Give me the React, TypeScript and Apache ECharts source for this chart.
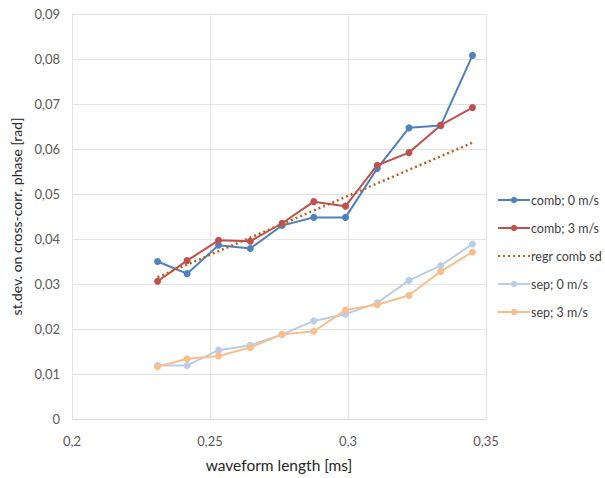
import React, { useEffect, useRef } from "react";
import * as echarts from "echarts";

const xValues = [0.231, 0.2417, 0.2531, 0.2646, 0.2761, 0.2876, 0.2991, 0.3106, 0.3221, 0.3336, 0.3451];
const comb0 = [0.035, 0.0323, 0.0386, 0.0379, 0.043, 0.0448, 0.0448, 0.0557, 0.0647, 0.0652, 0.0808];
const comb3 = [0.0306, 0.0352, 0.0397, 0.0395, 0.0435, 0.0483, 0.0473, 0.0564, 0.0592, 0.0653, 0.0692];
const sep0 = [0.0119, 0.0119, 0.0153, 0.0164, 0.0188, 0.0218, 0.0233, 0.0258, 0.0308, 0.0341, 0.0389];
const sep3 = [0.0116, 0.0134, 0.014, 0.0159, 0.0188, 0.0195, 0.0242, 0.0254, 0.0275, 0.0328, 0.0371];
const regrX = [0.231, 0.3451];
const regrY = [0.0315, 0.0614];

const seriesNames = ["comb; 0 m/s", "comb; 3 m/s", "regr comb sd", "sep; 0 m/s", "sep; 3 m/s"];
const colors = ["#4F81BD", "#C0504D", "#B8621B", "#B9CDE8", "#F9BE8C"];

const pairs = (xs: number[], ys: number[]) => xs.map((x, i) => [x, ys[i]]);
const fmt = (v: number) => String(Math.round(v * 1000) / 1000).replace(".", ",");

export default function App() {
  const ref = useRef<HTMLDivElement>(null);
  useEffect(() => {
    if (!ref.current) return;
    const chart = echarts.init(ref.current, null, { renderer: "svg" });
    const font = "Lato, 'Noto Sans', sans-serif";
    const lineSeries = (name: string, color: string, data: number[][]) => ({
      name,
      type: "line",
      data,
      symbol: "circle",
      symbolSize: 7,
      lineStyle: { color, width: 2 },
      itemStyle: { color },
      z: 3,
    });
    chart.setOption({
      animation: false,
      backgroundColor: "#ffffff",
      textStyle: { fontFamily: font },
      grid: { left: 72, right: 119, top: 14, bottom: 52, containLabel: false },
      legend: {
        orient: "vertical",
        left: 492,
        top: 188,
        itemWidth: 32,
        itemHeight: 8,
        itemGap: 14,
        textStyle: { fontFamily: font, fontSize: 12.5, color: "#404040", padding: [0, 0, 0, -4], height: 14, lineHeight: 14 },
        data: seriesNames.map((n, i) => (i === 2 ? { name: n, itemStyle: { opacity: 0 } } : { name: n })),
      },
      xAxis: {
        type: "value",
        min: 0.2,
        max: 0.35,
        interval: 0.05,
        name: "waveform length [ms]",
        nameLocation: "middle",
        nameGap: 38,
        nameTextStyle: { fontFamily: font, fontSize: 15.5, color: "#262626" },
        axisLine: { show: true, lineStyle: { color: "#D9D9D9" } },
        axisTick: { show: false },
        axisLabel: { formatter: fmt, color: "#595959", fontSize: 13, margin: 15, fontFamily: font },
        splitLine: { show: true, lineStyle: { color: "#E3E3E3" } },
      },
      yAxis: {
        type: "value",
        min: 0,
        max: 0.09,
        interval: 0.01,
        name: "st.dev. on cross-corr. phase [rad]",
        nameLocation: "middle",
        nameGap: 40,
        nameTextStyle: { fontFamily: font, fontSize: 14, color: "#262626" },
        axisLine: { show: false },
        axisTick: { show: false },
        axisLabel: { formatter: fmt, color: "#595959", fontSize: 13, margin: 12, fontFamily: font },
        splitLine: { show: true, lineStyle: { color: "#E3E3E3" } },
      },
      series: [
        lineSeries(seriesNames[0], colors[0], pairs(xValues, comb0)),
        lineSeries(seriesNames[1], colors[1], pairs(xValues, comb3)),
        {
          name: seriesNames[2],
          type: "line",
          data: pairs(regrX, regrY),
          symbol: "none",
          lineStyle: { color: colors[2], width: 2.5, type: [2, 3] },
          itemStyle: { color: colors[2] },
          z: 4,
        },
        lineSeries(seriesNames[3], colors[3], pairs(xValues, sep0)),
        lineSeries(seriesNames[4], colors[4], pairs(xValues, sep3)),
      ],
    });
    return () => chart.dispose();
  }, []);
  return <div ref={ref} style={{ width: 605, height: 478, position: "absolute", left: 0, top: 0 }} />;
}
